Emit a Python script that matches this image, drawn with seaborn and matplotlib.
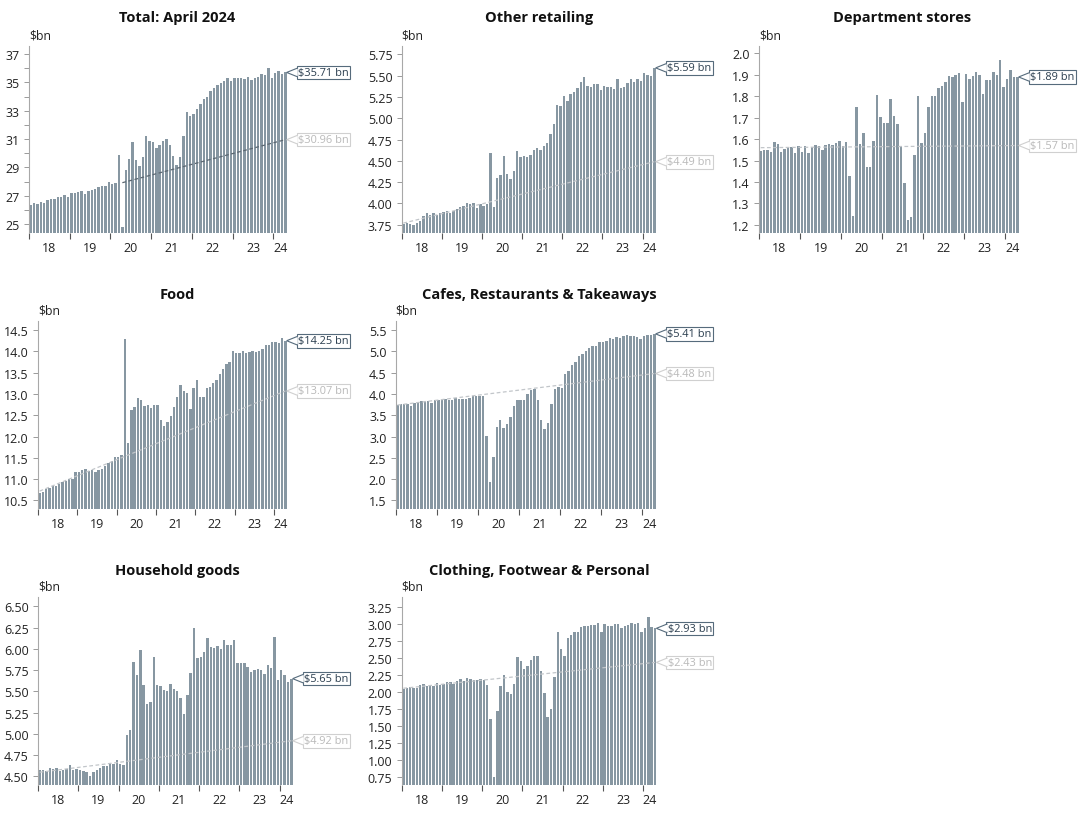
import numpy as np
import pandas as pd
import seaborn as sns
import matplotlib

matplotlib.use("Agg")
from matplotlib import pyplot as plt
from matplotlib import transforms as mtransforms
from matplotlib.patches import Polygon
from matplotlib.ticker import FixedLocator, FixedFormatter, FormatStrFormatter, NullFormatter

# monthly categories, Jan 2018 - Apr 2024
months = pd.date_range("2018-01-01", "2024-04-01", freq="MS").strftime("%Y-%m").tolist()
year_labels = ["18", "19", "20", "21", "22", "23", "24"]

total = [
    26.35, 26.45, 26.40, 26.55, 26.50, 26.70, 26.75, 26.80, 26.90, 26.90, 27.05, 26.90,
    27.20, 27.20, 27.25, 27.30, 27.15, 27.35, 27.40, 27.50, 27.60, 27.70, 27.70, 27.95,
    27.80, 27.90, 29.90, 24.80, 28.80, 29.60, 30.80, 29.50, 29.10, 29.70, 31.20, 30.90,
    30.80, 30.40, 30.60, 30.90, 31.00, 30.60, 29.80, 29.20, 29.70, 31.20, 32.90, 32.60,
    32.80, 33.10, 33.50, 33.80, 34.00, 34.40, 34.60, 34.80, 34.95, 35.10, 35.30, 35.10,
    35.30, 35.30, 35.35, 35.25, 35.40, 35.20, 35.30, 35.40, 35.60, 35.50, 36.05, 35.30,
    35.70, 35.80, 35.60, 35.71,
]
other_retailing = [
    3.76, 3.77, 3.76, 3.75, 3.77, 3.80, 3.85, 3.89, 3.87, 3.89, 3.87, 3.89,
    3.90, 3.91, 3.89, 3.91, 3.93, 3.96, 3.97, 4.00, 3.99, 4.00, 3.95, 3.99,
    3.97, 3.99, 4.59, 3.96, 4.30, 4.33, 4.56, 4.34, 4.29, 4.38, 4.62, 4.55,
    4.56, 4.54, 4.57, 4.63, 4.65, 4.63, 4.67, 4.71, 4.82, 4.93, 5.16, 5.14,
    5.26, 5.20, 5.28, 5.31, 5.35, 5.42, 5.48, 5.38, 5.37, 5.40, 5.40, 5.33,
    5.38, 5.37, 5.37, 5.34, 5.46, 5.35, 5.36, 5.41, 5.46, 5.42, 5.46, 5.44,
    5.53, 5.51, 5.50, 5.59,
]
department_stores = [
    1.545, 1.547, 1.548, 1.542, 1.588, 1.577, 1.540, 1.555, 1.562, 1.565, 1.537, 1.567,
    1.540, 1.567, 1.533, 1.565, 1.574, 1.570, 1.550, 1.574, 1.576, 1.572, 1.580, 1.590,
    1.566, 1.586, 1.427, 1.242, 1.750, 1.575, 1.630, 1.470, 1.470, 1.590, 1.808, 1.703,
    1.676, 1.673, 1.787, 1.710, 1.670, 1.566, 1.394, 1.222, 1.236, 1.525, 1.800, 1.582,
    1.630, 1.752, 1.800, 1.800, 1.838, 1.850, 1.868, 1.893, 1.888, 1.897, 1.908, 1.773,
    1.903, 1.882, 1.893, 1.915, 1.897, 1.812, 1.875, 1.878, 1.915, 1.897, 1.967, 1.845,
    1.880, 1.921, 1.890, 1.890,
]
food = [
    10.68, 10.70, 10.78, 10.80, 10.84, 10.84, 10.89, 10.93, 10.96, 11.00, 11.00, 11.18,
    11.18, 11.22, 11.25, 11.20, 11.22, 11.18, 11.22, 11.25, 11.30, 11.38, 11.42, 11.52,
    11.52, 11.57, 14.28, 11.84, 12.62, 12.70, 12.90, 12.87, 12.72, 12.75, 12.68, 12.75,
    12.74, 12.38, 12.25, 12.34, 12.48, 12.70, 12.92, 13.22, 13.08, 13.02, 12.65, 13.14,
    13.32, 12.93, 12.93, 13.13, 13.17, 13.25, 13.33, 13.47, 13.58, 13.70, 13.74, 14.02,
    13.97, 13.97, 14.02, 13.97, 13.98, 14.00, 13.98, 14.00, 14.06, 14.15, 14.14, 14.23,
    14.23, 14.20, 14.31, 14.25,
]
cafes = [
    3.75, 3.77, 3.76, 3.77, 3.72, 3.78, 3.80, 3.84, 3.84, 3.83, 3.79, 3.87,
    3.87, 3.87, 3.89, 3.86, 3.87, 3.90, 3.88, 3.88, 3.89, 3.91, 3.95, 3.95,
    3.96, 3.95, 3.01, 1.94, 2.52, 3.23, 3.40, 3.21, 3.29, 3.47, 3.72, 3.87,
    3.86, 3.86, 4.00, 4.10, 4.12, 3.85, 3.39, 3.17, 3.33, 3.77, 4.11, 4.16,
    4.15, 4.48, 4.53, 4.68, 4.76, 4.88, 4.95, 5.01, 5.08, 5.12, 5.12, 5.21,
    5.23, 5.25, 5.31, 5.29, 5.34, 5.32, 5.37, 5.39, 5.36, 5.35, 5.34, 5.30,
    5.37, 5.38, 5.38, 5.41,
]
household = [
    4.58, 4.58, 4.57, 4.60, 4.59, 4.60, 4.56, 4.58, 4.59, 4.64, 4.58, 4.59,
    4.58, 4.57, 4.55, 4.51, 4.55, 4.58, 4.60, 4.62, 4.62, 4.65, 4.65, 4.69,
    4.65, 4.63, 4.99, 5.05, 5.85, 5.69, 5.99, 5.58, 5.35, 5.38, 5.90, 5.58,
    5.56, 5.52, 5.50, 5.59, 5.53, 5.50, 5.42, 5.24, 5.46, 5.72, 6.25, 5.89,
    5.91, 5.96, 6.13, 6.02, 6.01, 6.03, 6.00, 6.10, 6.04, 6.05, 6.11, 5.83,
    5.84, 5.83, 5.79, 5.73, 5.75, 5.76, 5.75, 5.71, 5.81, 5.77, 6.14, 5.64,
    5.75, 5.69, 5.61, 5.65,
]
clothing = [
    2.04, 2.06, 2.07, 2.05, 2.05, 2.10, 2.11, 2.09, 2.10, 2.08, 2.13, 2.10,
    2.11, 2.14, 2.14, 2.12, 2.15, 2.18, 2.16, 2.20, 2.18, 2.17, 2.17, 2.19,
    2.17, 2.10, 1.60, 0.75, 1.72, 2.09, 2.25, 1.99, 1.96, 2.12, 2.51, 2.45,
    2.34, 2.37, 2.47, 2.52, 2.53, 2.30, 1.98, 1.63, 1.75, 2.22, 2.88, 2.63,
    2.53, 2.79, 2.83, 2.88, 2.88, 2.95, 2.97, 2.96, 2.98, 2.98, 3.01, 2.87,
    2.99, 2.97, 2.97, 3.00, 3.00, 2.94, 2.96, 2.98, 3.01, 2.99, 3.01, 2.87,
    2.94, 3.09, 2.95, 2.93,
]

# pre-covid trend line: (start, end) values, and the month it starts from
trend_total = [27.92, 30.96]
trend_other = [3.77, 4.49]
trend_dept = [1.56, 1.57]
trend_food = [10.72, 13.07]
trend_cafes = [3.74, 4.48]
trend_household = [4.55, 4.92]
trend_clothing = [2.05, 2.43]
trend_from = ["2020-04", "2018-01", "2018-01", "2018-01", "2018-01", "2018-01", "2018-01"]

titles = [
    "Total: April 2024", "Other retailing", "Department stores", "Food",
    "Cafes, Restaurants & Takeaways", "Household goods", "Clothing, Footwear & Personal",
]
series = [total, other_retailing, department_stores, food, cafes, household, clothing]
trends = [trend_total, trend_other, trend_dept, trend_food, trend_cafes, trend_household, trend_clothing]

# y ticks: (first, last, step, minor step, format)
yticks = [
    (25, 37, 2, 1, "%d"),
    (3.75, 5.75, 0.25, None, "%.2f"),
    (1.2, 2.0, 0.1, None, "%.1f"),
    (10.5, 14.5, 0.5, None, "%.1f"),
    (1.5, 5.5, 0.5, None, "%.1f"),
    (4.5, 6.5, 0.25, None, "%.2f"),
    (0.75, 3.25, 0.25, None, "%.2f"),
]
ylims = [(24.4, 37.6), (3.66, 5.85), (1.164, 2.036), (10.30, 14.72),
         (1.30, 5.72), (4.40, 6.61), (0.63, 3.39)]

# axes boxes in pixels: left, top, right, bottom
W, H = 1080, 820
boxes = [
    (29, 46.7, 287, 233.5), (401.7, 46.7, 656, 233.5), (759, 46.7, 1019, 233.5),
    (38, 321.7, 287, 510), (395.7, 321.7, 656, 510),
    (38, 598, 293, 786), (401.7, 598, 656.7, 786),
]
title_pos = [(177, 18), (539, 18), (902, 18), (177, 295), (539, 295), (177, 571), (539, 571)]

bar_color = "#8797a2"
value_color = "#2a3d4e"
value_edge = "#566b7c"
trend_text = "#b9b9b9"
trend_edge = "#d0d0d0"

sns.set_theme(style="white")
plt.rcParams["font.family"] = ["Open Sans", "DejaVu Sans"]

fig = plt.figure(figsize=(W / 100, H / 100), dpi=100)
n = len(months)


def tag(ax, x, y, text, tcolor, ecolor):
    # label box with a small chevron pointing at (x, y)
    ax.annotate(text, xy=(x, y), xycoords="data", xytext=(8.2, 0), textcoords="offset points",
                ha="left", va="center", fontsize=7.9, color=tcolor, zorder=6,
                annotation_clip=False,
                bbox=dict(boxstyle="square,pad=0.12", fc="white", ec=ecolor, lw=0.8))
    tr = mtransforms.Affine2D().scale(fig.dpi / 72.0) + mtransforms.ScaledTranslation(x, y, ax.transData)
    pts = np.array([[8.0, 2.9], [7.2, 2.9], [0, 0], [7.2, -2.9], [8.0, -2.9]])
    p = Polygon(pts, closed=False, fc="white", ec=ecolor, lw=0.8, transform=tr, clip_on=False, zorder=7)
    ax.add_patch(p)


for i in range(len(series)):
    l, t, r, b = boxes[i]
    ax = fig.add_axes([l / W, 1 - b / H, (r - l) / W, (b - t) / H])
    df = pd.DataFrame({"month": months, "value": series[i]})
    sns.barplot(data=df, x="month", y="value", color=bar_color, saturation=1, width=0.72,
                linewidth=0, errorbar=None, ax=ax)

    tcol = "#5b6771" if i == 0 else "#c2c6ca"
    ax.plot([months.index(trend_from[i]), n - 1], trends[i], ls=(0, (3, 2)), lw=0.9, color=tcol, zorder=3)

    ax.set_xlim(-0.5, n - 0.5)
    ax.set_ylim(*ylims[i])
    ax.set_xlabel("")
    ax.set_ylabel("")

    # x: ticks on year boundaries, labels centred on each year
    bounds = list(range(0, n, 12))
    ax.xaxis.set_major_locator(FixedLocator([k - 0.5 for k in bounds]))
    ax.xaxis.set_major_formatter(NullFormatter())
    centers = [(k + min(k + 12, n) - 1) / 2 for k in bounds]
    ax.xaxis.set_minor_locator(FixedLocator(centers))
    ax.xaxis.set_minor_formatter(FixedFormatter(year_labels))
    ax.tick_params(axis="x", which="major", bottom=True, length=4, width=0.8, color="#555555")
    ax.tick_params(axis="x", which="minor", bottom=True, length=0, pad=6, labelsize=9, labelcolor="#222222")

    lo, hi, step, mstep, fmt = yticks[i]
    ax.yaxis.set_major_locator(FixedLocator(np.arange(lo, hi + step / 2, step)))
    ax.yaxis.set_major_formatter(FormatStrFormatter(fmt))
    if mstep:
        ax.yaxis.set_minor_locator(FixedLocator(np.arange(lo, hi + mstep / 2, mstep)))
        ax.tick_params(axis="y", which="minor", left=True, length=3.5, width=0.7, color="#9a9a9a")
    ax.tick_params(axis="y", which="major", left=True, length=3.5, width=0.7, color="#9a9a9a",
                   labelsize=9, labelcolor="#222222", pad=3.2)

    for s in ["top", "right", "bottom"]:
        ax.spines[s].set_visible(False)
    ax.spines["left"].set_color("#a8a8a8")
    ax.spines["left"].set_linewidth(0.8)

    ax.annotate("$bn", xy=(0, 1), xycoords="axes fraction", xytext=(0, 7.7),
                textcoords="offset points", ha="left", va="center", fontsize=8.8, color="#222222")

    tx, ty = title_pos[i]
    fig.text(tx / W, 1 - ty / H, titles[i], ha="center", va="center",
             fontsize=10.5, fontweight="bold", color="#111111")

    xe = n - 1 + 0.4
    tag(ax, xe, series[i][-1], f"${series[i][-1]:.2f} bn", value_color, value_edge)
    tag(ax, xe, trends[i][-1], f"${trends[i][-1]:.2f} bn", trend_text, trend_edge)

fig.savefig("out.png", dpi=100)
